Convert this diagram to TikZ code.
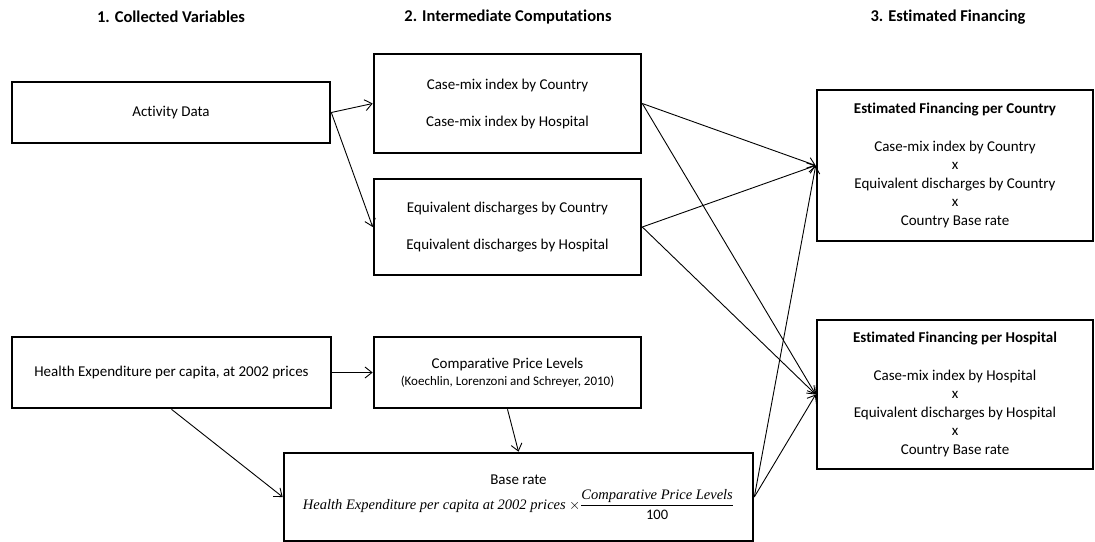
\documentclass[tikz,border=0pt]{standalone}
\usepackage{amsmath}
\usepackage{fontspec}
\setmainfont{Carlito}[Ligatures=NoCommon]
\newfontfamily\formfont{Liberation Serif}
\usetikzlibrary{arrows.meta, positioning}
\tikzset{>={Straight Barb[length=7pt,width=11pt]}}
\tikzset{font=\fontsize{15}{17}\selectfont}
\tikzset{box/.style={draw, line width=2.6pt, align=center, inner sep=0pt},
  head/.style={font=\fontsize{16.5}{18}\selectfont\bfseries},
  flow/.style={->, line width=0.9pt},
  result/.style={box, minimum width=276pt, font=\fontsize{15}{18.5}\selectfont}}

\begin{document}
\begin{tikzpicture}[x=1pt, y=-1pt]
\useasboundingbox (0,0) rectangle (1095,541);
% column titles
\node[head] (t1) at (171,17) {1. Collected Variables};
\node[head] (t2) at (508,17) {2. Intermediate Computations};
\node[head] (t3) at (948,17) {3. Estimated Financing};
% collected variables
\node[box, minimum width=318pt, minimum height=61pt] (act) at (171,112.5) {Activity Data};
\node[box, minimum width=319pt, minimum height=71pt] (hexp) at (171.5,372.5) {Health Expenditure per capita, at 2002 prices};
% intermediate computations
\node[box, minimum width=267pt, minimum height=99pt] (cmi) at (507.5,103.5)
  {Case-mix index by Country\\[20pt] Case-mix index by Hospital};
\node[box, minimum width=267pt, minimum height=96pt] (eqd) at (507.5,227)
  {Equivalent discharges by Country\\[20pt] Equivalent discharges by Hospital};
\node[box, minimum width=267pt, minimum height=71pt] (cpl) at (507.5,372.5)
  {Comparative Price Levels\\[0pt] {\fontsize{13}{14}\selectfont (Koechlin, Lorenzoni and Schreyer, 2010)}};
\node[box, minimum width=469pt, minimum height=88pt] (base) at (518.5,497)
  {Base rate\\[4pt]
   {\fontsize{14.5}{16}\selectfont
   {\formfont\itshape Health Expenditure per capita at 2002 prices}
   $\times\dfrac{\text{\formfont\itshape Comparative Price Levels}}{\text{100}}$}};
% estimated financing
\node[result, minimum height=151pt] (estc) at (955,165.5)
  {\textbf{Estimated Financing per Country}\\[19pt]
   Case-mix index by Country\\ x\\ Equivalent discharges by Country\\ x\\ Country Base rate};
\node[result, minimum height=149pt] (esth) at (955,394.5)
  {\textbf{Estimated Financing per Hospital}\\[19pt]
   Case-mix index by Hospital\\ x\\ Equivalent discharges by Hospital\\ x\\ Country Base rate};
% connectors
\draw[flow] (act.east) -- (cmi.west);
\draw[flow] (act.east) -- (eqd.west);
\draw[flow] (cmi.east) -- (estc.west);
\draw[flow] (cmi.east) -- (esth.west);
\draw[flow] (eqd.east) -- (estc.west);
\draw[flow] (eqd.east) -- (esth.west);
\draw[flow] (hexp.east) -- (cpl.west);
\draw[flow] (hexp.south) -- (base.west);
\draw[flow] (cpl.south) -- (base.north);
\draw[flow] (base.east) -- (estc.west);
\draw[flow] (base.east) -- (esth.west);
\end{tikzpicture}
\end{document}
